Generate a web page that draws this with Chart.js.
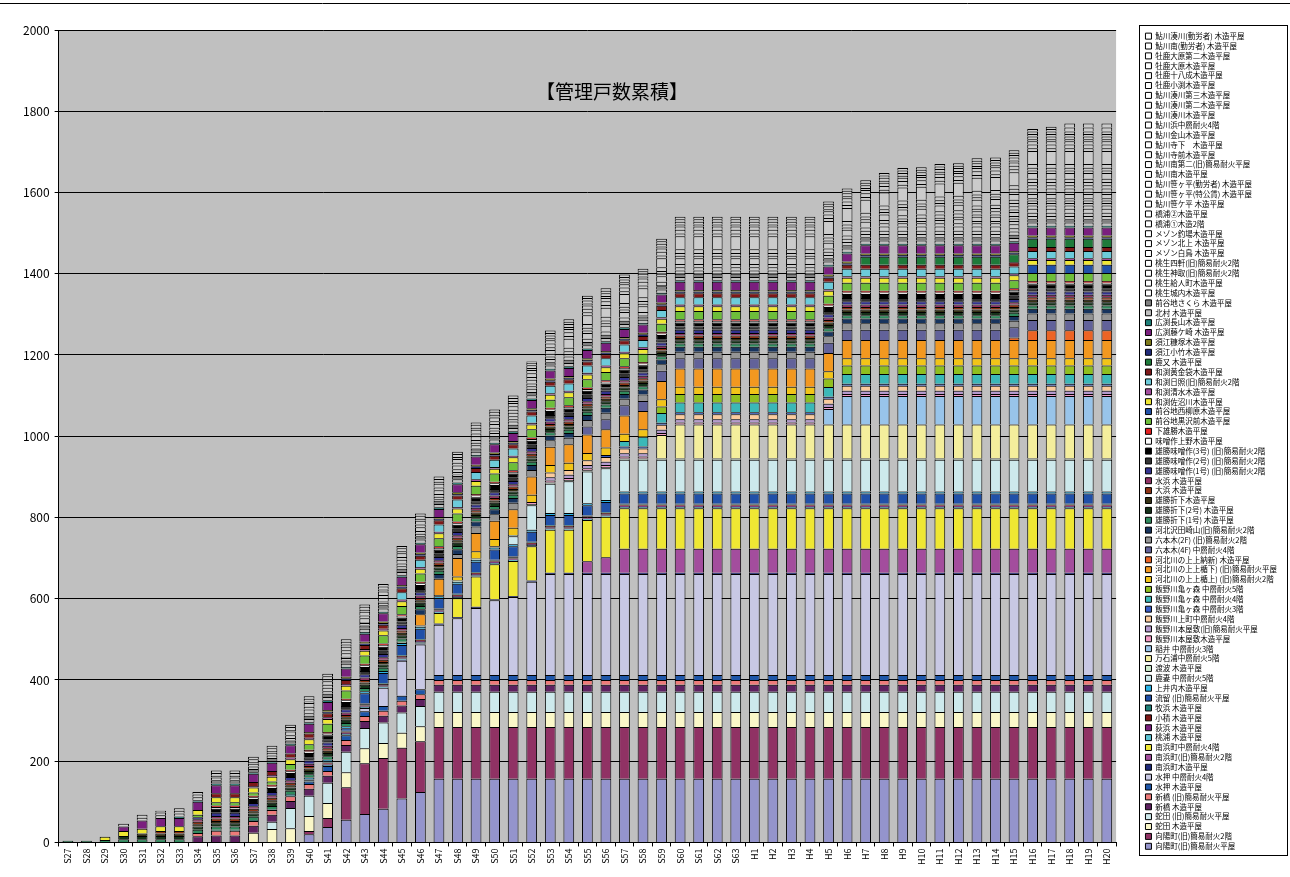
<!DOCTYPE html>
<html>
<head>
<meta charset="utf-8">
<script src="https://cdn.jsdelivr.net/npm/chart.js@4.4.0/dist/chart.umd.min.js"></script>
<style>
  html, body { margin: 0; padding: 0; background: #fff; }
  #wrap { position: relative; width: 1290px; height: 877px; }
</style>
</head>
<body>
<div id="wrap"><canvas id="c" width="1290" height="877"></canvas></div>
<script>
// 年度 (昭和27年〜平成20年)
const years = ['S27','S28','S29','S30','S31','S32','S33','S34','S35','S36','S37','S38','S39','S40','S41','S42','S43','S44','S45','S46','S47','S48','S49','S50','S51','S52','S53','S54','S55','S56','S57','S58','S59','S60','S61','S62','S63','H1','H2','H3','H4','H5','H6','H7','H8','H9','H10','H11','H12','H13','H14','H15','H16','H17','H18','H19','H20'];

const yTicks = [0, 200, 400, 600, 800, 1000, 1200, 1400, 1600, 1800, 2000];

const chartTitle = '【管理戸数累積】';

// series in stacking order (bottom first)
const seriesNames = [
  '向陽町(旧)簡易耐火平屋', '向陽町(旧)簡易耐火2階', '蛇田 木造平屋', '蛇田 (旧)簡易耐火平屋',
  '新橋 木造平屋', '新橋 (旧)簡易耐火平屋', '水押 木造平屋', '水押 中層耐火4階',
  '南浜町木造平屋', '南浜町(旧)簡易耐火2階', '南浜町中層耐火4階', '桃浦 木造平屋',
  '荻浜 木造平屋', '小積 木造平屋', '牧浜 木造平屋', '流留 (旧)簡易耐火平屋',
  '上井内木造平屋', '鹿妻 中層耐火5階', '渡波 木造平屋', '万石浦中層耐火5階',
  '稲井 中層耐火3階', '飯野川本屋敷木造平屋', '飯野川本屋敷(旧)簡易耐火平屋', '飯野川上町中層耐火4階',
  '飯野川亀ヶ森 中層耐火3階', '飯野川亀ヶ森 中層耐火4階', '飯野川亀ヶ森 中層耐火5階', '河北川の上上楯上) (旧)簡易耐火2階',
  '河北川の上上楯下) (旧)簡易耐火平屋', '河北川の上上納新) 木造平屋', '六本木(4F) 中層耐火4階', '六本木(2F) (旧)簡易耐火2階',
  '河北沢田崎山(旧)簡易耐火2階', '雄勝折下(1号) 木造平屋', '雄勝折下(2号) 木造平屋', '雄勝折下木造平屋',
  '大浜 木造平屋', '水浜 木造平屋', '雄勝味噌作(1号) (旧)簡易耐火2階', '雄勝味噌作(2号) (旧)簡易耐火2階',
  '雄勝味噌作(3号) (旧)簡易耐火2階', '味噌作上野木造平屋', '下雄勝木造平屋', '前谷地黒沢前木造平屋',
  '前谷地西柳原木造平屋', '和渕佐沼川木造平屋', '和渕清水木造平屋', '和渕日照(旧)簡易耐火2階',
  '和渕黄金袋木造平屋', '鹿又 木造平屋', '須江小竹木造平屋', '須江糠塚木造平屋',
  '広渕藤ケ崎 木造平屋', '広渕長山木造平屋', '北村 木造平屋', '前谷地さくら 木造平屋',
  '桃生城内木造平屋', '桃生給人町木造平屋', '桃生神取(旧)簡易耐火2階', '桃生四軒(旧)簡易耐火2階',
  'メゾン白鳥 木造平屋', 'メゾン北上 木造平屋', 'メゾン釣場木造平屋', '橋浦①木造2階',
  '橋浦②木造平屋', '鮎川笹ケ平 木造平屋', '鮎川笹ヶ平(特公賃) 木造平屋', '鮎川笹ヶ平(勤労者) 木造平屋',
  '鮎川南木造平屋', '鮎川南第二(旧)簡易耐火平屋', '鮎川寺前木造平屋', '鮎川寺下　木造平屋',
  '鮎川金山木造平屋', '鮎川浜中層耐火4階', '鮎川湊川木造平屋', '鮎川湊川第二木造平屋',
  '鮎川湊川第三木造平屋', '牡鹿小渕木造平屋', '牡鹿十八成木造平屋', '牡鹿大原木造平屋',
  '牡鹿大原第二木造平屋', '鮎川南(勤労者) 木造平屋', '鮎川湊川(勤労者) 木造平屋'
];

// 戸数 per series per year
const s01 = [0,0,0,0,0,0,0,0,0,0, 0,0,0,20,38,56,70,83,108,124, 157,157,157,157,157,157,157,157,157,157, 157,157,157,157,157,157,157,157,157,157, 157,157,157,157,157,157,157,157,157,157, 157,157,157,157,157,157,157];
const s02 = [0,0,0,0,0,0,0,0,0,0, 0,0,0,8,22,80,125,125,125,125, 127,127,127,127,127,127,127,127,127,127, 127,127,127,127,127,127,127,127,127,127, 127,127,127,127,127,127,127,127,127,127, 127,127,127,127,127,127,127];
const s03 = [0,0,0,0,0,0,0,0,0,0, 24,33,35,37,37,37,37,37,37,37, 37,37,37,37,37,37,37,37,37,37, 37,37,37,37,37,37,37,37,37,37, 37,37,37,37,37,37,37,37,37,37, 37,37,37,37,37,37,37];
const s04 = [0,0,0,0,0,0,0,0,0,0, 0,18,50,50,50,50,50,50,50,50, 50,50,50,50,50,50,50,50,50,50, 50,50,50,50,50,50,50,50,50,50, 50,50,50,50,50,50,50,50,50,50, 50,50,50,50,50,50,50];
const s05 = [0,0,0,0,0,0,0,15,17,17, 17,17,17,17,17,17,17,17,17,17, 17,17,17,17,17,17,17,17,17,17, 17,17,17,17,17,17,17,17,17,17, 17,17,17,17,17,17,17,17,17,17, 17,17,17,17,17,17,17];
const s06 = [0,0,0,0,0,0,0,8,12,12, 12,12,12,12,12,12,12,12,12,12, 12,12,12,12,12,12,12,12,12,12, 12,12,12,12,12,12,12,12,12,12, 12,12,12,12,12,12,12,12,12,12, 12,12,12,12,12,12,12];
const s07 = [0,0,0,0,0,0,0,0,0,0, 0,0,0,6,12,12,12,12,12,12, 12,12,12,12,12,12,12,12,12,12, 12,12,12,12,12,12,12,12,12,12, 12,12,12,12,12,12,12,12,12,12, 12,12,12,12,12,12,12];
const s08 = [0,0,0,0,0,0,0,0,0,0, 0,0,0,0,0,0,8,45,86,110, 124,140,165,184,192,230,249,249,249,249, 249,249,249,249,249,249,249,249,249,249, 249,249,249,249,249,249,249,249,249,249, 249,249,249,249,249,249,249];
const s09 = [0,0,0,0,0,0,0,0,0,0, 0,0,0,0,0,0,0,0,3,3, 3,3,3,3,3,3,3,3,3,3, 3,3,3,3,3,3,3,3,3,3, 3,3,3,3,3,3,3,3,3,3, 3,3,3,3,3,3,3];
const s10 = [0,0,0,0,0,0,0,0,0,0, 0,0,0,0,0,0,0,0,0,0, 0,0,0,0,0,0,0,0,28,38, 59,59,59,59,59,59,59,59,59,59, 59,59,59,59,59,59,59,59,59,59, 59,59,59,59,59,59,59];
const s11 = [0,0,0,0,0,0,0,0,0,0, 0,0,0,0,0,0,0,0,0,0, 26,46,75,86,86,84,106,106,102,100, 100,100,100,100,100,100,100,100,100,100, 100,100,100,100,100,100,100,100,100,100, 100,100,100,100,100,100,100];
const s12 = [0,0,0,0,0,0,0,0,0,0, 0,0,3,3,3,3,3,3,3,3, 3,3,3,3,3,3,3,3,3,3, 3,3,3,3,3,3,3,3,3,3, 3,3,3,3,3,3,3,3,3,3, 3,3,3,3,3,3,3];
const s13 = [0,0,0,0,0,0,0,0,0,0, 0,0,0,0,3,3,3,3,3,3, 3,3,3,3,3,3,3,3,3,3, 3,3,3,3,3,3,3,3,3,3, 3,3,3,3,3,3,3,3,3,3, 3,3,3,3,3,3,3];
const s14 = [0,0,0,0,0,0,0,0,0,0, 0,0,0,0,3,3,3,3,3,3, 3,3,3,3,3,3,3,3,3,3, 3,3,3,3,3,3,3,3,3,3, 3,3,3,3,3,3,3,3,3,3, 3,3,3,3,3,3,3];
const s15 = [0,0,0,0,0,0,0,0,2,2, 2,2,2,2,2,2,2,2,2,2, 2,2,2,2,2,2,2,2,2,2, 2,2,2,2,2,2,2,2,2,2, 2,2,2,2,2,2,2,2,2,2, 2,2,2,2,2,2,2];
const s16 = [0,0,0,0,0,0,0,0,0,0, 0,0,0,0,0,6,25,25,25,25, 25,25,25,25,25,25,25,25,25,25, 25,25,25,25,25,25,25,25,25,25, 25,25,25,25,25,25,25,25,25,25, 25,25,25,25,25,25,25];
const s17 = [0,0,0,0,0,0,0,0,0,0, 0,0,0,5,5,5,5,5,5,5, 5,5,5,5,5,5,5,5,5,5, 5,5,5,5,5,5,5,5,5,5, 5,5,5,5,5,5,5,5,5,5, 5,5,5,5,5,5,5];
const s18 = [0,0,0,0,0,0,0,0,0,0, 0,0,0,0,0,0,0,0,0,0, 0,0,0,0,20,60,72,78,78,78, 78,78,78,78,78,78,78,78,78,78, 78,78,78,78,78,78,78,78,78,78, 78,78,78,78,78,78,78];
const s19 = [0,0,0,0,0,0,0,0,0,0, 0,0,0,0,0,0,0,0,3,3, 3,3,3,3,3,3,3,3,3,3, 3,3,3,3,3,3,3,3,3,3, 3,3,3,3,3,3,3,3,3,3, 3,3,3,3,3,3,3];
const s20 = [0,0,0,0,0,0,0,0,0,0, 0,0,0,0,0,0,0,0,0,0, 0,0,0,0,0,0,0,0,0,0, 0,0,58,84,84,84,84,84,84,84, 84,84,84,84,84,84,84,84,84,84, 84,84,84,84,84,84,84];
const s21 = [0,0,0,0,0,0,0,0,0,0, 0,0,0,0,0,0,0,0,0,0, 0,0,0,0,0,0,0,0,0,0, 0,0,0,0,0,0,0,0,0,0, 0,38,70,70,70,70,70,70,70,70, 70,70,70,70,70,70,70];
const s22 = [0,0,0,0,0,0,0,0,0,0, 0,0,0,0,0,0,0,0,0,0, 0,0,0,0,0,5,5,5,5,5, 5,5,5,5,5,5,5,5,5,5, 5,5,5,5,5,5,5,5,5,5, 5,5,5,5,5,5,5];
const s23 = [0,0,0,0,0,0,0,0,0,0, 0,0,0,0,0,0,0,0,0,0, 0,0,0,0,0,0,8,8,8,8, 8,8,8,8,8,8,8,8,8,8, 8,8,8,8,8,8,8,8,8,8, 8,8,8,8,8,8,8];
const s24 = [0,0,0,0,0,0,0,0,0,0, 0,0,0,0,0,0,0,0,0,0, 0,0,0,0,0,0,12,12,12,12, 12,12,12,12,12,12,12,12,12,12, 12,12,12,12,12,12,12,12,12,12, 12,12,12,12,12,12,12];
const s25 = [0,0,0,0,0,0,0,0,0,0, 0,0,0,0,0,0,0,0,0,0, 0,0,0,0,0,0,0,0,0,5, 5,5,5,5,5,5,5,5,5,5, 5,5,5,5,5,5,5,5,5,5, 5,5,5,5,5,5,5];
const s26 = [0,0,0,0,0,0,0,0,0,0, 0,0,0,0,0,0,0,0,0,0, 0,0,0,0,0,0,0,0,0,0, 13,24,24,24,24,24,24,24,24,24, 24,24,24,24,24,24,24,24,24,24, 24,24,24,24,24,24,24];
const s27 = [0,0,0,0,0,0,0,0,0,0, 0,0,0,0,0,0,0,0,0,0, 0,0,0,0,0,0,0,0,0,0, 0,0,16,21,21,21,21,21,21,21, 21,21,21,21,21,21,21,21,21,21, 21,21,21,21,21,21,21];
const s28 = [0,0,0,0,0,0,0,0,0,0, 0,0,0,0,0,0,0,0,0,0, 0,10,18,18,18,18,18,18,18,18, 18,18,18,18,18,18,18,18,18,18, 18,18,18,18,18,18,18,18,18,18, 18,18,18,18,18,18,18];
const s29 = [0,0,0,0,0,0,0,0,0,0, 0,0,0,0,0,0,0,0,0,28, 40,45,45,45,45,45,45,45,45,45, 45,45,45,45,45,45,45,45,45,45, 45,45,45,45,45,45,45,45,45,45, 45,45,45,45,45,45,45];
const s30 = [0,0,0,0,0,0,0,0,0,0, 0,0,0,0,0,0,0,0,0,0, 0,0,0,0,0,0,0,0,0,0, 0,0,0,0,0,0,0,0,0,0, 0,0,0,0,0,0,0,0,0,0, 0,6,24,24,24,24,24];
const s31 = [0,0,0,0,0,0,0,0,0,0, 0,0,0,0,0,0,0,0,0,0, 0,0,0,0,0,0,0,0,20,25, 25,25,25,25,25,25,25,25,25,25, 25,25,25,25,25,25,25,25,25,25, 25,25,25,25,25,25,25];
const s32 = [0,0,0,0,0,0,0,0,0,0, 0,0,0,0,0,0,0,0,0,0, 0,10,16,16,16,16,16,16,16,16, 16,16,16,16,16,16,16,16,16,16, 16,16,16,16,16,16,16,16,16,16, 16,16,16,16,16,16,16];
const s33 = [0,0,0,0,0,0,0,0,0,0, 0,0,0,0,0,0,0,0,0,12, 12,12,12,12,12,12,12,12,12,12, 12,12,12,12,12,12,12,12,12,12, 12,12,12,12,12,12,12,12,12,12, 12,12,12,12,12,12,12];
const s34 = [4,4,6,8,8,8,8,8,8,8, 8,8,8,8,8,8,8,8,8,8, 8,8,8,8,8,8,8,8,8,8, 8,8,8,8,8,8,8,8,8,8, 8,8,8,8,8,8,8,8,8,8, 8,8,8,8,8,8,8];
const s35 = [0,0,0,8,8,8,8,8,8,8, 8,8,8,8,8,8,8,8,8,8, 8,8,8,8,8,8,8,8,8,8, 8,8,8,8,8,8,8,8,8,8, 8,8,8,8,8,8,8,8,8,8, 8,8,8,8,8,8,8];
const s36 = [0,0,0,0,6,6,6,6,6,6, 6,6,6,6,6,6,6,6,6,6, 6,6,6,6,6,6,6,6,6,6, 6,6,6,6,6,6,6,6,6,6, 6,6,6,6,6,6,6,6,6,6, 6,6,6,6,6,6,6];
const s37 = [0,0,0,0,0,6,6,6,6,6, 6,6,6,6,6,6,6,6,6,6, 6,6,6,6,6,6,6,6,6,6, 6,6,6,6,6,6,6,6,6,6, 6,6,6,6,6,6,6,6,6,6, 6,6,6,6,6,6,6];
const s38 = [0,0,0,0,0,0,0,6,6,6, 6,6,6,6,6,6,6,6,6,6, 6,6,6,6,6,6,6,6,6,6, 6,6,6,6,6,6,6,6,6,6, 6,6,6,6,6,6,6,6,6,6, 6,6,6,6,6,6,6];
const s39 = [0,0,0,0,0,0,0,5,8,8, 8,8,8,8,8,8,8,8,8,8, 8,8,8,8,8,8,8,8,8,8, 8,8,8,8,8,8,8,8,8,8, 8,8,8,8,8,8,8,8,8,8, 8,8,8,8,8,8,8];
const s40 = [0,0,0,0,0,0,0,0,0,0, 0,0,0,8,8,8,8,8,8,8, 8,8,8,8,8,8,8,8,8,8, 8,8,8,8,8,8,8,8,8,8, 8,8,8,8,8,8,8,8,8,8, 8,8,8,8,8,8,8];
const s41 = [0,0,0,0,0,0,0,0,10,10, 10,10,10,10,10,10,10,10,10,10, 10,10,10,10,10,10,10,10,10,10, 10,10,10,10,10,10,10,10,10,10, 10,10,10,10,10,10,10,10,10,10, 10,10,10,10,10,10,10];
const s42 = [0,0,0,0,0,0,0,0,4,4, 4,4,4,4,4,4,4,4,4,4, 4,4,4,4,4,4,4,4,4,4, 4,4,4,4,4,4,4,4,4,4, 4,4,4,4,4,4,4,4,4,4, 4,4,4,4,4,4,4];
const s43 = [0,0,0,0,0,0,0,0,4,4, 4,4,4,4,4,4,4,4,4,4, 4,4,4,4,4,4,4,4,4,4, 4,4,4,4,4,4,4,4,4,4, 4,4,4,4,4,4,4,4,4,4, 4,4,4,4,4,4,4];
const s44 = [0,0,0,0,0,0,0,6,8,8, 8,8,14,14,20,20,20,20,20,20, 20,20,20,20,20,20,20,20,20,20, 20,20,20,20,20,20,20,20,20,20, 20,20,20,20,20,20,20,20,20,20, 20,20,20,20,20,20,20];
const s45 = [0,0,0,0,0,0,0,0,0,0, 0,0,0,0,0,0,0,0,0,0, 0,0,0,0,0,0,0,0,0,0, 0,0,0,0,0,0,0,0,0,0, 0,0,0,0,0,0,0,0,0,0, 0,0,20,20,20,20,20];
const s46 = [0,0,8,12,12,12,12,12,12,12, 12,12,12,12,12,12,12,12,12,12, 12,12,12,12,12,12,12,12,12,12, 12,12,12,12,12,12,12,12,12,12, 12,12,12,12,12,12,12,12,12,12, 12,12,12,12,12,12,12];
const s47 = [0,0,0,0,0,0,0,0,0,0, 4,4,4,4,4,4,4,4,4,4, 4,4,4,4,4,4,4,4,4,4, 4,4,4,4,4,4,4,4,4,4, 4,4,4,4,4,4,4,4,4,4, 4,4,4,4,4,4,4];
const s48 = [0,0,0,0,0,0,0,0,0,0, 0,0,0,0,0,0,0,0,18,18, 18,18,18,18,18,18,18,18,18,18, 18,18,18,18,18,18,18,18,18,18, 18,18,18,18,18,18,18,18,18,18, 18,18,18,18,18,18,18];
const s49 = [0,0,0,0,0,0,0,0,10,10, 10,10,10,10,10,10,10,10,10,10, 10,10,10,10,10,10,10,10,10,10, 10,10,10,10,10,10,10,10,10,10, 10,10,10,10,10,10,10,10,10,10, 10,10,10,10,10,10,10];
const s50 = [0,0,0,0,0,0,0,0,0,0, 0,0,0,0,0,0,0,0,0,0, 0,0,0,0,0,0,0,0,0,0, 0,0,0,0,0,0,0,0,0,0, 0,0,0,20,20,20,20,20,20,20, 20,20,20,20,20,20,20];
const s51 = [0,0,0,0,0,0,0,0,0,0, 0,0,0,0,4,4,4,4,4,4, 4,4,4,4,4,4,4,4,4,4, 4,4,4,4,4,4,4,4,4,4, 4,4,4,4,4,4,4,4,4,4, 4,4,4,4,4,4,4];
const s52 = [0,0,0,0,0,0,0,0,0,0, 0,0,0,4,4,4,4,4,4,4, 4,4,4,4,4,4,4,4,4,4, 4,4,4,4,4,4,4,4,4,4, 4,4,4,4,4,4,4,4,4,4, 4,4,4,4,4,4,4];
const s53 = [0,0,0,11,20,20,20,20,20,20, 20,20,20,20,20,20,20,20,20,20, 20,20,20,20,20,20,20,20,20,20, 20,20,20,20,20,20,20,20,20,20, 20,20,20,20,20,20,20,20,20,20, 20,20,20,20,20,20,20];
const s54 = [0,0,0,0,0,0,4,4,4,4, 4,4,4,4,4,4,4,4,4,4, 4,4,4,4,4,4,4,4,4,4, 4,4,4,4,4,4,4,4,4,4, 4,4,4,4,4,4,4,4,4,4, 4,4,4,4,4,4,4];
const s55 = [0,0,0,0,0,0,0,0,0,0, 0,0,0,8,8,8,8,8,8,8, 8,8,8,8,8,8,8,8,8,8, 8,8,8,8,8,8,8,8,8,8, 8,8,8,8,8,8,8,8,8,8, 8,8,8,8,8,8,8];
const s56 = [0,0,0,0,0,0,0,0,8,8, 8,8,8,8,8,8,8,8,8,8, 8,8,8,8,8,8,8,8,8,8, 8,8,8,8,8,8,8,8,8,8, 8,8,8,8,8,8,8,8,8,8, 8,8,8,8,8,8,8];
const s57 = [0,0,0,0,0,0,0,0,0,0, 0,0,0,0,0,0,0,0,0,0, 0,0,0,0,0,0,0,0,0,0, 0,3,3,8,8,8,8,8,8,8, 8,8,8,8,8,8,8,8,8,8, 8,8,8,8,8,8,8];
const s58 = [0,0,0,0,0,0,0,0,0,0, 0,0,0,0,0,0,0,0,0,0, 0,0,0,0,0,0,0,0,0,0, 0,0,0,8,8,8,8,8,8,8, 8,8,8,8,8,8,8,8,8,8, 8,8,8,8,8,8,8];
const s59 = [0,0,0,0,0,0,0,0,0,0, 0,0,0,0,0,0,0,0,0,0, 0,0,0,0,0,0,0,0,0,0, 0,0,0,0,0,0,0,0,0,0, 0,0,0,0,10,10,10,10,10,10, 10,10,10,10,10,10,10];
const s60 = [0,0,0,0,0,0,0,0,0,0, 0,0,0,0,0,0,0,0,0,0, 0,0,0,0,0,0,0,0,0,0, 0,0,0,0,0,0,0,0,0,0, 0,0,0,0,8,8,8,8,8,8, 8,8,8,8,8,8,8];
const s61 = [0,0,0,0,0,0,0,0,0,0, 0,0,0,0,0,0,0,0,0,0, 0,0,0,0,0,0,0,0,0,0, 0,0,0,0,0,0,0,0,0,0, 0,0,0,0,0,0,0,0,0,0, 0,0,6,6,6,6,6];
const s62 = [0,0,0,0,0,0,0,0,0,0, 0,0,0,0,0,0,0,0,0,0, 0,0,0,0,0,0,0,0,0,0, 0,0,0,0,0,0,0,0,0,0, 0,0,0,0,0,0,0,0,0,0, 0,6,6,6,6,6,6];
const s63 = [0,0,0,0,0,0,0,0,0,0, 0,0,0,0,0,0,0,0,0,0, 0,0,0,0,0,0,0,0,0,0, 0,0,0,0,0,0,0,0,0,0, 0,0,0,0,0,0,0,0,0,6, 6,6,6,6,6,6,6];
const s64 = [0,0,0,0,0,0,0,0,0,0, 0,0,0,0,0,0,0,0,0,0, 0,0,0,0,0,0,0,0,0,0, 0,0,0,0,0,0,0,0,0,0, 0,0,0,0,0,0,0,8,10,10, 10,10,10,10,10,10,10];
const s65 = [0,0,0,0,0,0,0,0,0,0, 0,0,0,0,0,0,0,0,0,0, 0,0,0,0,0,0,0,0,0,0, 0,0,0,0,0,0,0,0,0,0, 0,0,0,0,0,6,6,6,6,6, 6,6,6,6,6,6,6];
const s66 = [0,0,0,0,0,0,0,0,0,0, 0,0,0,0,0,0,0,0,0,0, 0,0,0,0,0,0,0,0,0,0, 0,0,0,0,0,0,0,0,0,0, 0,0,0,0,0,6,8,8,8,8, 8,8,8,8,8,8,8];
const s67 = [0,0,0,0,0,0,0,0,0,0, 0,0,0,0,0,0,0,0,0,0, 0,0,0,0,0,0,0,0,0,0, 0,0,0,0,0,0,0,0,0,0, 0,0,0,0,0,0,0,0,0,0, 0,0,8,8,8,8,8];
const s68 = [0,0,0,0,0,0,0,0,0,0, 0,0,0,0,0,0,0,0,0,0, 0,0,0,0,0,0,0,0,0,0, 0,0,0,0,0,0,0,0,0,0, 0,0,0,0,0,0,0,0,0,6, 8,8,8,8,8,8,8];
const s69 = [0,0,0,0,0,0,0,0,0,0, 0,0,0,0,0,0,0,0,0,0, 4,4,8,8,8,8,8,8,8,8, 8,8,8,8,8,8,8,8,8,8, 8,8,8,8,8,8,8,8,8,8, 8,8,8,8,8,8,8];
const s70 = [0,0,0,0,0,0,0,0,0,0, 0,0,0,0,0,0,0,0,0,0, 0,0,0,0,0,0,0,0,14,14, 14,14,14,14,14,14,14,14,14,14, 14,14,14,14,14,14,14,14,14,14, 14,14,14,14,14,14,14];
const s71 = [0,0,0,0,0,0,0,0,0,0, 6,6,6,6,6,6,6,6,6,6, 6,6,6,6,6,6,6,6,6,6, 6,6,6,6,6,6,6,6,6,6, 6,6,6,6,6,6,6,6,6,6, 6,6,6,6,6,6,6];
const s72 = [0,0,0,0,0,0,0,0,0,0, 0,0,0,0,0,3,3,3,7,7, 7,7,7,7,7,7,7,7,7,7, 7,7,7,7,7,7,7,7,7,7, 7,7,7,7,7,7,7,7,7,7, 7,7,7,7,7,7,7];
const s73 = [0,0,0,0,0,0,0,0,0,0, 0,0,0,9,9,9,9,9,9,9, 9,9,9,9,9,9,9,9,9,9, 9,9,9,9,9,9,9,9,9,9, 9,9,9,9,9,9,9,9,9,9, 9,9,9,9,9,9,9];
const s74 = [0,0,0,0,0,0,0,0,0,0, 0,0,0,0,0,0,0,0,0,0, 0,0,0,0,0,0,0,22,22,22, 22,22,22,32,32,32,32,32,32,32, 32,32,32,32,32,32,32,32,32,32, 32,32,32,32,32,32,32];
const s75 = [0,0,0,7,7,7,7,7,7,7, 7,7,7,7,7,7,7,7,7,7, 7,7,7,7,7,7,7,7,7,7, 7,7,7,7,7,7,7,7,7,7, 7,7,7,7,7,7,7,7,7,7, 7,7,7,7,7,7,7];
const s76 = [0,0,0,0,0,0,0,0,0,0, 0,0,9,9,9,9,9,9,9,9, 9,9,9,9,9,9,9,9,9,9, 9,9,9,9,9,9,9,9,9,9, 9,9,9,9,9,9,9,9,9,9, 9,9,9,9,9,9,9];
const s77 = [0,0,0,0,0,0,0,0,0,0, 0,0,0,0,0,0,0,0,0,0, 0,0,0,2,8,8,8,8,8,8, 8,8,8,8,8,8,8,8,8,8, 8,8,8,8,8,8,8,8,8,8, 8,8,8,8,8,8,8];
const s78 = [0,0,0,0,0,0,0,0,4,4, 4,4,4,4,5,5,5,5,5,5, 5,5,5,5,5,5,5,5,5,5, 5,5,5,5,5,5,5,5,5,5, 5,5,5,5,5,5,5,5,5,5, 5,5,5,5,5,5,5];
const s79 = [0,0,0,0,7,7,7,7,7,7, 7,7,7,7,7,7,7,7,7,7, 7,7,7,7,7,7,7,7,7,7, 7,7,7,7,7,7,7,7,7,7, 7,7,7,7,7,7,7,7,7,7, 7,7,7,7,7,7,7];
const s80 = [0,0,0,0,0,4,6,6,6,6, 6,6,6,6,6,6,6,6,6,6, 6,6,6,6,6,6,6,6,6,6, 6,6,6,6,6,6,6,6,6,6, 6,6,6,6,6,6,6,6,6,6, 6,6,6,6,6,6,6];
const s81 = [0,0,0,0,0,0,0,0,0,0, 0,0,0,0,0,0,0,0,0,0, 0,0,0,0,0,3,6,6,6,6, 6,6,6,6,6,6,6,6,6,6, 6,6,6,6,6,6,6,6,6,6, 6,6,6,6,6,6,6];
const s82 = [0,0,0,0,0,0,0,0,0,0, 0,0,0,0,0,0,0,0,0,0, 0,0,0,0,0,0,0,0,0,0, 0,0,0,0,0,0,0,0,0,0, 0,0,0,0,0,0,0,0,0,0, 0,0,0,6,10,10,10];
const s83 = [0,0,0,0,0,0,0,0,0,0, 0,0,0,0,0,0,0,0,0,0, 0,0,0,0,0,0,0,0,0,0, 0,0,0,0,0,0,0,0,0,0, 0,0,0,0,0,0,0,0,0,0, 0,6,6,6,10,10,10];

const seriesValues = [s01,s02,s03,s04,s05,s06,s07,s08,s09,s10,s11,s12,s13,s14,s15,s16,s17,s18,s19,s20,
  s21,s22,s23,s24,s25,s26,s27,s28,s29,s30,s31,s32,s33,s34,s35,s36,s37,s38,s39,s40,
  s41,s42,s43,s44,s45,s46,s47,s48,s49,s50,s51,s52,s53,s54,s55,s56,s57,s58,s59,s60,
  s61,s62,s63,s64,s65,s66,s67,s68,s69,s70,s71,s72,s73,s74,s75,s76,s77,s78,s79,s80,
  s81,s82,s83];

// fill colours, same order as the series
const seriesColors = [
  '#9494cc','#903264','#faf7c8','#cde9ec','#5e2160','#ee7b7a','#1e56a8','#c8c8e4',
  '#1f2a7a','#a34d9d','#efe733','#5cc4d4','#7a1f7e','#7e1818','#1e7f78','#2050a8',
  '#2bb5e8','#cde9ec','#cdebcd','#f4ee9c','#98c4ea','#f29ac4','#b49acf','#fbcb9c',
  '#3a5fc8','#3bb8b8','#8fbf1e','#f2c418','#f29820','#ec6424','#62629a','#949494',
  '#17345e','#2e8a5c','#16321a','#373316','#8e3414','#903264','#333390','#333333',
  '#000000','#ffffff','#e52020','#6dbe3a','#2050a8','#efe733','#a34d9d','#6ccbda',
  '#7e1818','#1e7a3a','#1f2a7a','#7e7a1a','#7a1f7e','#1e7f78','#c0c0c0','#808080'
];
const blankFill = '#cbcbcb';
const FONT = "'Noto Sans CJK JP', 'Noto Sans', sans-serif";

const decor = {
  id: 'decor',
  beforeDraw(chart) {
    const { ctx, chartArea: a } = chart;
    ctx.save();
    ctx.fillStyle = '#fff';
    ctx.fillRect(0, 0, chart.width, chart.height);
    ctx.fillStyle = '#c0c0c0';
    ctx.fillRect(a.left, a.top, a.right - a.left, a.bottom - a.top);
    ctx.restore();
  },
  afterDraw(chart) {
    const { ctx } = chart;
    ctx.save();
    ctx.fillStyle = '#000';
    ctx.font = '19px ' + FONT;
    ctx.textAlign = 'center';
    ctx.textBaseline = 'middle';
    ctx.fillText(chartTitle, 612, 92);

    // legend frame
    const hb = chart.legend.legendHitBoxes;
    if (hb && hb.length) {
      const top = Math.min(...hb.map(b => b.top));
      const bottom = Math.max(...hb.map(b => b.top + b.height));
      const left = Math.min(...hb.map(b => b.left));
      const x0 = Math.round(left - 6), y0 = Math.round(top - 7);
      ctx.strokeStyle = '#000';
      ctx.lineWidth = 1;
      ctx.strokeRect(x0 + 0.5, y0 + 0.5, chart.width - 3 - x0, Math.round(bottom + 5) - y0);
    }
    // top edge of the chart frame
    ctx.beginPath();
    ctx.moveTo(0, 3.5);
    ctx.lineTo(chart.width, 3.5);
    ctx.stroke();
    ctx.restore();
  }
};

const datasets = seriesNames.map((name, i) => ({
  label: name,
  data: seriesValues[i],
  backgroundColor: i < seriesColors.length ? seriesColors[i] : blankFill,
  borderColor: '#000',
  borderWidth: 1,
  barPercentage: 0.58,
  categoryPercentage: 1
}));

new Chart(document.getElementById('c').getContext('2d'), {
  type: 'bar',
  data: { labels: years, datasets },
  options: {
    responsive: false,
    animation: false,
    devicePixelRatio: 1,
    layout: { padding: { top: 30, left: 18, right: 3, bottom: 10 } },
    plugins: {
      tooltip: { enabled: false },
      legend: {
        position: 'right',
        align: 'start',
        reverse: true,
        labels: {
          font: { family: FONT, size: 7.5 },
          color: '#000',
          boxWidth: 6,
          boxHeight: 6,
          padding: 2.38,
          generateLabels(chart) {
            const items = Chart.defaults.plugins.legend.labels.generateLabels(chart);
            items.forEach(it => {
              if (it.datasetIndex >= seriesColors.length) it.fillStyle = '#fff';
              it.strokeStyle = '#000';
              it.lineWidth = 1;
            });
            return items;
          }
        }
      }
    },
    scales: {
      x: {
        stacked: true,
        grid: { display: true, drawOnChartArea: false, drawTicks: true, tickLength: 4, color: '#000', offset: true },
        border: { color: '#000' },
        ticks: { autoSkip: false, maxRotation: 90, minRotation: 90, color: '#000', padding: 2,
                 font: { family: FONT, size: 9 } }
      },
      y: {
        stacked: true,
        min: 0,
        max: 2000,
        afterBuildTicks: axis => { axis.ticks = yTicks.map(v => ({ value: v })); },
        ticks: { color: '#000', padding: 5, font: { family: FONT, size: 12 }, callback: v => String(v) },
        grid: { color: '#000', lineWidth: 1, tickLength: 4 },
        border: { color: '#000' }
      },
      gap: {
        type: 'linear',
        position: 'right',
        display: true,
        grid: { display: false },
        border: { display: false },
        ticks: { display: false },
        afterFit: s => { s.width = 27; }
      }
    }
  },
  plugins: [decor]
});
</script>
</body>
</html>
